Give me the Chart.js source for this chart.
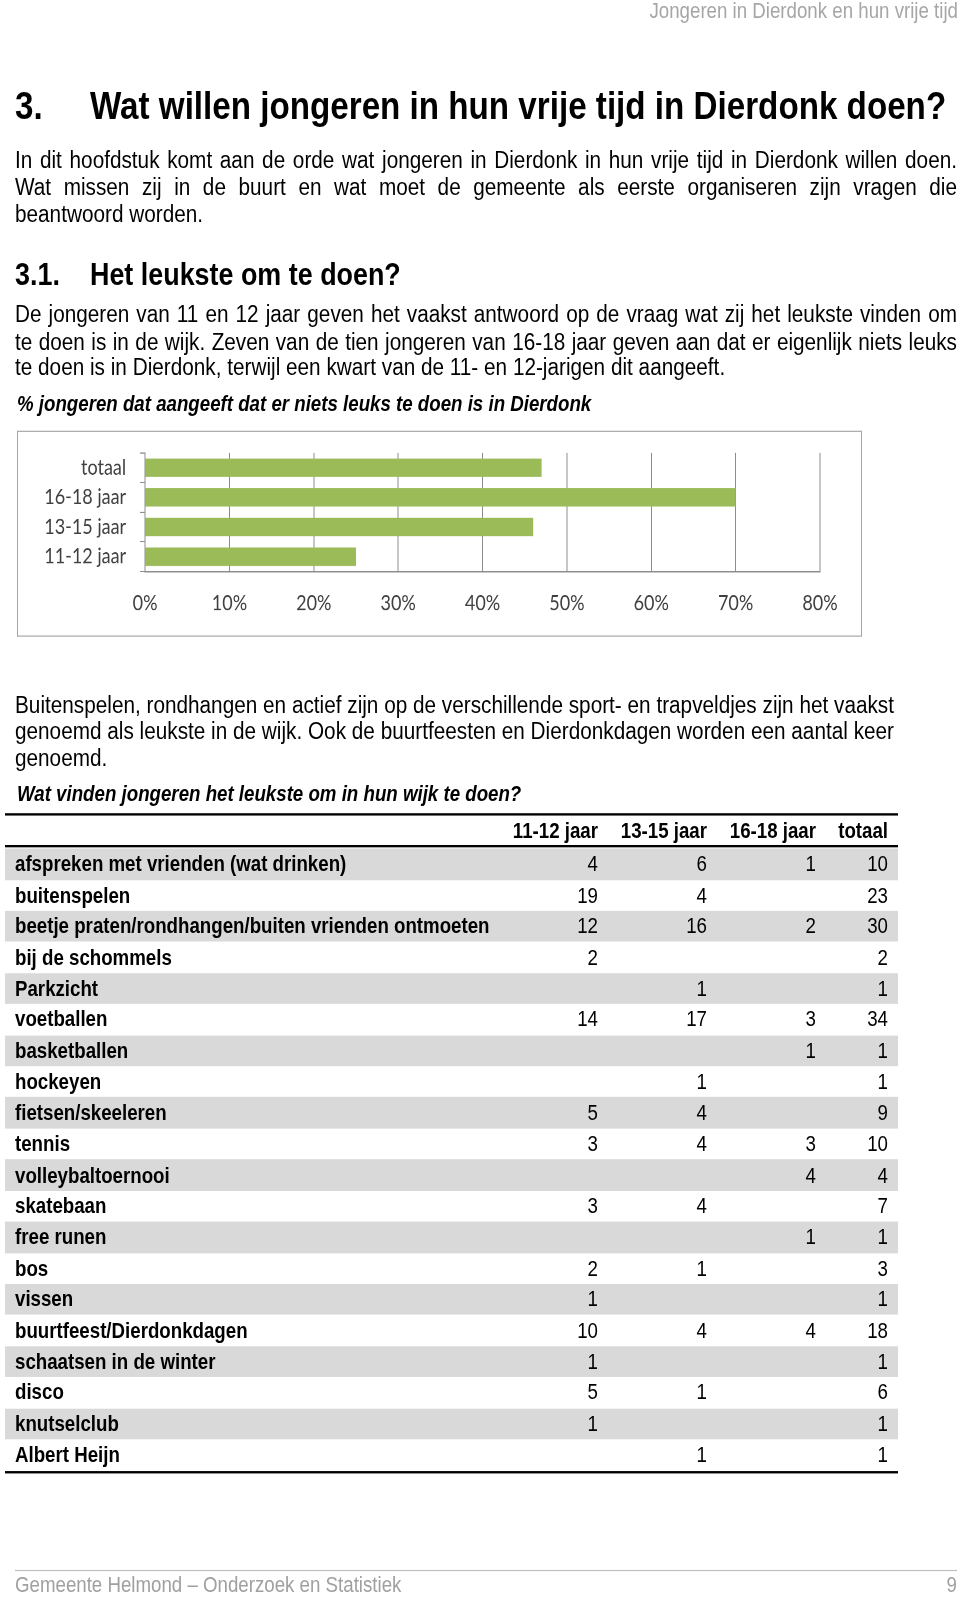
<!DOCTYPE html>
<html>
<head>
<meta charset="utf-8">
<script src="https://cdn.jsdelivr.net/npm/chart.js@4"></script>
<style>
  html, body { margin:0; padding:0; background:#fff; overflow:hidden; }
  body { width:960px; height:1597px; position:relative; }
  #page { position:absolute; left:0; top:0; width:960px; height:1357px; transform-origin:0 0; transform:scaleY(1.17686);
          font-family:"Liberation Sans", Arial, sans-serif; color:#000; }
  .t { position:absolute; white-space:nowrap; }
  .body { font-size:20.75px; line-height:24px; left:15px; }
  .just { text-align:justify; text-align-last:justify; }
  .row { position:absolute; left:5px; width:893px; height:26.41px; }
  .cell { position:absolute; font-size:18.7px; line-height:22px; white-space:nowrap; }
  .hline { position:absolute; left:5px; width:893px; background:#000; }
</style>
</head>
<body>
<div id="page">
  <div class="t" style="right:2px; top:0.5px; font-size:18.7px; line-height:16px; color:#a6a6a6;">Jongeren in Dierdonk en hun vrije tijd</div>

  <div class="t" style="left:15px; top:71px; font-size:33.2px; line-height:38px; font-weight:bold;">3.</div>
  <div class="t" style="left:90px; top:71px; font-size:33.2px; line-height:38px; font-weight:bold;">Wat willen jongeren in hun vrije tijd in Dierdonk doen?</div>

  <div class="t body just" style="top:123.8px; width:942px;">In dit hoofdstuk komt aan de orde wat jongeren in Dierdonk in hun vrije tijd in Dierdonk willen doen.</div>
  <div class="t body just" style="top:147.2px; width:942px;">Wat missen zij in de buurt en wat moet de gemeente als eerste organiseren zijn vragen die</div>
  <div class="t body" style="top:169.7px;">beantwoord worden.</div>

  <div class="t" style="left:15px; top:217.7px; font-size:26.9px; line-height:30px; font-weight:bold;">3.1.</div>
  <div class="t" style="left:90px; top:217.7px; font-size:26.9px; line-height:30px; font-weight:bold;">Het leukste om te doen?</div>

  <div class="t body just" style="top:255.3px; width:942px;">De jongeren van 11 en 12 jaar geven het vaakst antwoord op de vraag wat zij het leukste vinden om</div>
  <div class="t body just" style="top:277.8px; width:942px;">te doen is in de wijk. Zeven van de tien jongeren van 16-18 jaar geven aan dat er eigenlijk niets leuks</div>
  <div class="t body" style="top:300.3px;">te doen is in Dierdonk, terwijl een kwart van de 11- en 12-jarigen dit aangeeft.</div>

  <div class="t" style="left:17px; top:332.4px; font-size:18.7px; line-height:22px; font-weight:bold; font-style:italic;">% jongeren dat aangeeft dat er niets leuks te doen is in Dierdonk</div>

  <div id="chartbox" style="position:absolute; left:17px; top:365.9px; width:843px; height:173.5px; border:1.5px solid #a6a6a6;">
    <div style="position:absolute; left:0; top:0; width:843px; height:173.5px;"><canvas id="c"></canvas></div>
  </div>

  <div class="t body just" style="top:586.6px; width:879px;">Buitenspelen, rondhangen en actief zijn op de verschillende sport- en trapveldjes zijn het vaakst</div>
  <div class="t body just" style="top:609.1px; width:879px;">genoemd als leukste in de wijk. Ook de buurtfeesten en Dierdonkdagen worden een aantal keer</div>
  <div class="t body" style="top:631.6px;">genoemd.</div>

  <div class="t" style="left:17px; top:663.7px; font-size:18.7px; line-height:22px; font-weight:bold; font-style:italic;">Wat vinden jongeren het leukste om in hun wijk te doen?</div>

  <div id="table"></div>

  <div style="position:absolute; left:15px; top:1334.3px; width:942px; height:1px; background:#bfbfbf;"></div>
  <div class="t" style="left:15px; top:1335.8px; font-size:18.7px; line-height:22px; color:#a0a0a0;">Gemeente Helmond – Onderzoek en Statistiek</div>
  <div class="t" style="right:3px; top:1335.8px; font-size:18.7px; line-height:22px; color:#a0a0a0;">9</div>
</div>

<script>
// ---- chart data ----
const chartCategories = ['totaal', '16-18 jaar', '13-15 jaar', '11-12 jaar'];
const chartValues = [0.47, 0.70, 0.46, 0.25];
const xTickLabels = ['0%', '10%', '20%', '30%', '40%', '50%', '60%', '70%', '80%'];

// ---- table data ----
const tableColumns = ['11-12 jaar', '13-15 jaar', '16-18 jaar', 'totaal'];
const activities = [
  'afspreken met vrienden (wat drinken)', 'buitenspelen', 'beetje praten/rondhangen/buiten vrienden ontmoeten',
  'bij de schommels', 'Parkzicht', 'voetballen', 'basketballen', 'hockeyen', 'fietsen/skeeleren', 'tennis',
  'volleybaltoernooi', 'skatebaan', 'free runen', 'bos', 'vissen', 'buurtfeest/Dierdonkdagen',
  'schaatsen in de winter', 'disco', 'knutselclub', 'Albert Heijn'
];
const age1112 = [4, 19, 12, 2, null, 14, null, null, 5, 3, null, 3, null, 2, 1, 10, 1, 5, 1, null];
const age1315 = [6, 4, 16, null, 1, 17, null, 1, 4, 4, null, 4, null, 1, null, 4, null, 1, null, 1];
const age1618 = [1, null, 2, null, null, 3, 1, null, null, 3, 4, null, 1, null, null, 4, null, null, null, null];
const totals  = [10, 23, 30, 2, 1, 34, 1, 1, 9, 10, 4, 7, 1, 3, 1, 18, 1, 6, 1, 1];

// ---- build table ----
(function () {
  const t = document.getElementById('table');
  const colRight = [598, 707, 816, 888];
  const rowTop0 = 721.2, rowH = 26.41;
  let html = '';
  html += '<div class="hline" style="top:691px; height:2.1px;"></div>';
  html += '<div class="hline" style="top:717.8px; height:1.9px;"></div>';
  tableColumns.forEach((c, j) => {
    html += `<div class="cell" style="right:${960 - colRight[j]}px; top:${705.9 - 11}px; font-weight:bold;">${c}</div>`;
  });
  const cols = [age1112, age1315, age1618, totals];
  activities.forEach((a, i) => {
    const top = rowTop0 + i * rowH;
    if (i % 2 === 0) html += `<div class="row" style="top:${top}px; background:#d9d9d9;"></div>`;
    const cy = top + rowH / 2;
    html += `<div class="cell" style="left:15px; top:${cy - 11}px; font-weight:bold;">${a}</div>`;
    cols.forEach((arr, j) => {
      if (arr[i] !== null) html += `<div class="cell" style="right:${960 - colRight[j]}px; top:${cy - 11}px;">${arr[i]}</div>`;
    });
  });
  html += `<div class="hline" style="top:${rowTop0 + activities.length * rowH + 0.5}px; height:2.1px;"></div>`;
  t.innerHTML = html;
})();

// ---- chart ----
const gridGray = '#8c8c8c';
new Chart(document.getElementById('c'), {
  type: 'bar',
  data: {
    labels: chartCategories,
    datasets: [{ data: chartValues, backgroundColor: '#9bbb59', borderWidth: 0,
                 barPercentage: 0.62, categoryPercentage: 1.0 }]
  },
  options: {
    indexAxis: 'y',
    responsive: true,
    maintainAspectRatio: false,
    animation: false,
    devicePixelRatio: 2,
    layout: { padding: { left: 0, right: 41, top: 17.9, bottom: 0 } },
    plugins: { legend: { display: false }, tooltip: { enabled: false } },
    scales: {
      x: {
        min: 0, max: 0.8,
        ticks: { stepSize: 0.1, padding: 16.6, color: '#404040', font: { family: 'Lato', size: 18 },
                 callback: (v, i) => xTickLabels[i] },
        grid: { color: gridGray, lineWidth: 1, drawTicks: false },
        border: { color: gridGray, width: 1.3 },
        afterFit: (s) => { s.height = 54.5; s.paddingLeft = 0; s.paddingRight = 0; }
      },
      y: {
        ticks: { padding: 14, autoSkip: false, color: '#404040', font: { family: 'Lato', size: 18 } },
        grid: { drawOnChartArea: false, drawTicks: true, tickLength: 5, color: gridGray, lineWidth: 1 },
        border: { color: gridGray, width: 1 },
        afterFit: (s) => { s.width = 127.1; s.paddingTop = 0; s.paddingBottom = 0; }
      }
    }
  }
});
</script>
</body>
</html>
